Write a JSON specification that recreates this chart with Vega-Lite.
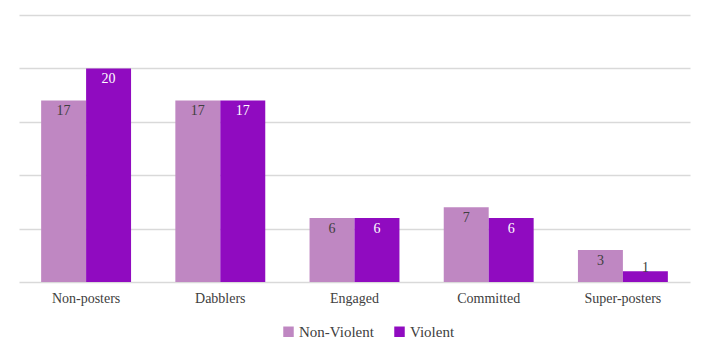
{
  "$schema": "https://vega.github.io/schema/vega-lite/v6.json",
  "width": 671,
  "height": 267,
  "autosize": {"type": "none"},
  "padding": {"left": 19, "top": 15, "right": 19, "bottom": 77},
  "background": "white",
  "config": {
    "view": {"stroke": null}
  },
  "data": {
    "values": [
      {"category": "Non-posters", "group": "Non-Violent", "value": 17},
      {"category": "Non-posters", "group": "Violent", "value": 20},
      {"category": "Dabblers", "group": "Non-Violent", "value": 17},
      {"category": "Dabblers", "group": "Violent", "value": 17},
      {"category": "Engaged", "group": "Non-Violent", "value": 6},
      {"category": "Engaged", "group": "Violent", "value": 6},
      {"category": "Committed", "group": "Non-Violent", "value": 7},
      {"category": "Committed", "group": "Violent", "value": 6},
      {"category": "Super-posters", "group": "Non-Violent", "value": 3},
      {"category": "Super-posters", "group": "Violent", "value": 1}
    ]
  },
  "encoding": {
    "x": {
      "field": "category",
      "type": "nominal",
      "sort": ["Non-posters", "Dabblers", "Engaged", "Committed", "Super-posters"],
      "scale": {"paddingInner": 0.33, "paddingOuter": 0.165},
      "axis": {
        "title": null,
        "labelAngle": 0,
        "domain": false,
        "ticks": false,
        "labelFont": "Liberation Serif",
        "labelFontSize": 14,
        "labelColor": "#404040",
        "labelPadding": 9
      }
    },
    "xOffset": {"field": "group", "type": "nominal", "sort": ["Non-Violent", "Violent"]},
    "y": {
      "field": "value",
      "type": "quantitative",
      "scale": {"domain": [0, 25]},
      "axis": {
        "title": null,
        "labels": false,
        "ticks": false,
        "domain": false,
        "values": [0, 5, 10, 15, 20, 25],
        "gridColor": "#d9d9d9",
        "gridWidth": 1.5
      }
    }
  },
  "layer": [
    {
      "mark": {"type": "bar"},
      "encoding": {
        "color": {
          "field": "group",
          "type": "nominal",
          "sort": ["Non-Violent", "Violent"],
          "scale": {"domain": ["Non-Violent", "Violent"], "range": ["#bf87c2", "#900bc0"]},
          "legend": {
            "title": null,
            "orient": "none",
            "legendX": 262,
            "legendY": 309,
            "direction": "horizontal",
            "symbolType": "square",
            "symbolSize": 110,
            "symbolStrokeWidth": 0,
            "labelFont": "Liberation Serif",
            "labelFontSize": 15,
            "labelColor": "#404040",
            "columnPadding": 18,
            "labelOffset": 3
          }
        }
      }
    },
    {
      "transform": [{"filter": "datum.value >= 2"}],
      "mark": {"type": "text", "baseline": "top", "dy": 4, "fontSize": 14, "font": "Liberation Serif"},
      "encoding": {
        "text": {"field": "value", "type": "quantitative"},
        "color": {
          "condition": {"test": "datum.group === 'Violent'", "value": "#ffffff"},
          "value": "#404040"
        }
      }
    },
    {
      "transform": [{"filter": "datum.value < 2"}],
      "mark": {"type": "text", "baseline": "bottom", "dy": 4, "fontSize": 14, "color": "#404040", "font": "Liberation Serif"},
      "encoding": {
        "text": {"field": "value", "type": "quantitative"}
      }
    }
  ]
}
